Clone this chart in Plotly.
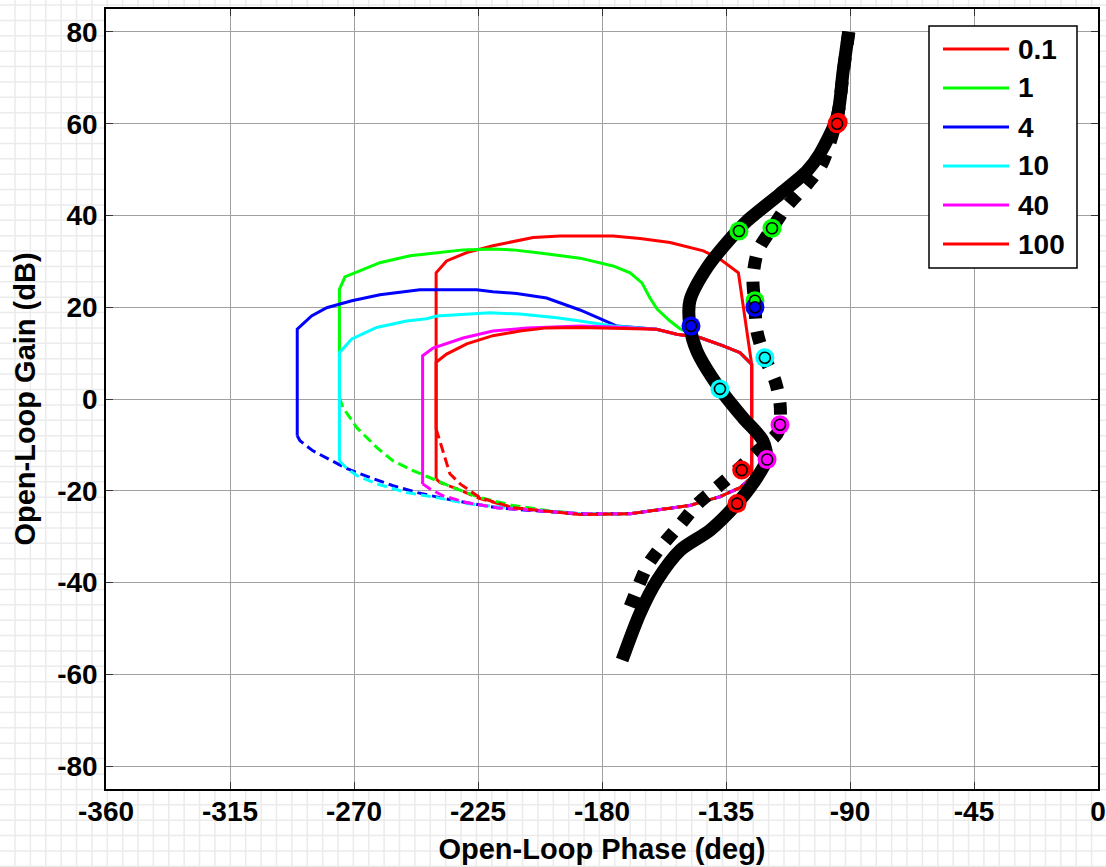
import plotly.graph_objects as go

# ---------------- data (phase in deg, gain in dB) ----------------
legend_labels = ["0.1", "1", "4", "10", "40", "100"]
series_colors = ["#ff0000", "#00ff00", "#0000ff", "#00ffff", "#ff00ff", "#ff0000"]

x_ticks = [-360, -315, -270, -225, -180, -135, -90, -45, 0]
y_ticks = [-80, -60, -40, -20, 0, 20, 40, 60, 80]

# thick black solid curve
solid_phase = [-90.5, -92.5, -94.7, -101.0, -105.6, -115.4, -127.4, -131.0, -141.9,
               -148.1, -148.1, -145.6, -137.2, -128.8, -121.6, -120.3, -125.2, -131.0, -140.8,
               -151.7, -160.0, -166.2, -172.7]
solid_gain = [80.0, 71.4, 61.4, 53.4, 49.7, 44.7, 38.8, 36.6, 28.6,
              21.4, 15.9, 10.5, 2.2, -4.1, -9.1, -13.2, -18.4, -22.8, -28.6,
              -33.0, -39.5, -46.7, -56.9]

# thick black dotted curve
dotted_phase = [-90.4, -92.5, -94.4, -100.2, -105.6, -112.9, -118.3, -123.4, -125.2, -124.5,
                -123.8, -120.9, -117.2, -115.4, -115.4, -116.5, -124.5, -130.7, -137.9, -145.2,
                -151.7, -157.9, -163.3, -167.3, -170.9]
dotted_gain = [80.0, 71.0, 62.1, 51.2, 46.8, 42.0, 37.2, 32.3, 26.4, 20.3,
               14.8, 9.0, 4.0, -1.0, -5.6, -7.6, -11.9, -15.4, -19.1, -22.8,
               -27.4, -31.7, -36.1, -41.5, -47.0]

# colored loops: solid part and dashed part
red01_solid_phase = [-240.2, -240.2, -236.4, -229.1, -219.6, -212.3, -205.0, -195.2, -176.0, -166.2,
                     -155.3, -143.2, -137.2, -130.5, -125.7, -125.7]
red01_solid_gain = [-17.4, 27.5, 30.1, 31.9, 33.4, 34.3, 35.2, 35.5, 35.5, 35.0,
                    34.1, 32.3, 30.5, 27.5, 7.6, -17.1]
red01_dash_phase = [-240.2, -238.8, -232.6, -224.3, -212.3, -188.0, -169.8, -148.1, -137.2, -129.9, -125.7]
red01_dash_gain = [-17.4, -18.2, -19.6, -21.7, -23.7, -25.2, -25.0, -23.2, -21.3, -19.3, -17.1]

green_solid_phase = [-275.3, -275.3, -273.3, -260.6, -249.7, -239.9, -230.4, -219.6, -212.3, -202.5,
                     -188.0, -176.0, -169.8, -165.5, -162.6, -160.0, -155.3, -151.7, -144.5, -136.0,
                     -129.9, -125.7, -125.7]
green_solid_gain = [0.3, 23.9, 26.6, 29.7, 31.2, 31.8, 32.5, 32.7, 32.5, 31.8,
                    30.7, 29.0, 27.5, 25.3, 22.0, 19.6, 17.0, 15.3, 13.4, 11.6,
                    10.1, 7.6, -17.1]
green_dash_phase = [-275.3, -274.0, -268.9, -261.7, -255.8, -248.6, -239.9, -234.1, -224.3, -212.3,
                    -200.0, -188.0, -169.8, -148.1, -137.2, -129.9, -125.7]
green_dash_gain = [0.3, -1.9, -6.3, -10.6, -13.5, -15.6, -17.8, -19.3, -21.5, -23.2,
                   -24.3, -25.0, -25.0, -23.2, -21.3, -19.3, -17.1]

blue_solid_phase = [-290.6, -290.6, -285.4, -279.9, -270.8, -260.6, -246.1, -225.5, -219.6, -211.0,
                    -200.1, -195.2, -188.0, -180.7, -174.6, -160.2, -152.9, -144.5, -136.0, -129.9,
                    -125.7, -125.7]
blue_solid_gain = [-8.0, 15.2, 18.1, 19.9, 21.4, 22.7, 23.8, 23.8, 23.4, 23.0,
                   22.0, 21.0, 19.4, 17.5, 15.9, 15.2, 14.1, 13.4, 11.6, 10.1,
                   7.6, -17.1]
blue_dash_phase = [-290.6, -289.6, -284.9, -277.6, -272.5, -264.2, -255.8, -247.1, -238.8, -229.0,
                   -218.1, -206.1, -188.0, -169.8, -148.1, -137.2, -129.9, -125.7]
blue_dash_gain = [-8.0, -9.1, -11.3, -13.5, -15.2, -17.1, -18.9, -20.4, -21.5, -22.6,
                  -23.7, -24.3, -25.0, -25.0, -23.2, -21.3, -19.3, -17.1]

cyan_solid_phase = [-275.3, -275.3, -270.8, -261.8, -250.9, -243.6, -239.9, -229.1, -220.6, -209.8,
                    -196.4, -188.0, -176.0, -160.2, -152.9, -144.5, -136.0, -129.9, -125.7, -125.7]
cyan_solid_gain = [-13.5, 10.1, 13.1, 15.6, 17.0, 17.5, 18.1, 18.5, 18.8, 18.5,
                   17.7, 17.0, 15.9, 15.2, 14.1, 13.4, 11.6, 10.1, 7.6, -17.1]
cyan_dash_phase = [-275.3, -272.5, -268.9, -261.7, -250.8, -239.9, -229.0, -214.5, -188.0, -169.8,
                   -148.1, -137.2, -129.9, -125.7]
cyan_dash_gain = [-13.5, -15.2, -16.7, -18.5, -20.4, -21.5, -22.8, -23.7, -25.0, -25.0,
                  -23.2, -21.3, -19.3, -17.1]

magenta_solid_phase = [-245.1, -245.1, -241.3, -230.4, -219.6, -207.2, -188.0, -176.0, -160.2, -152.9,
                       -144.5, -136.0, -129.9, -125.7, -125.7]
magenta_solid_gain = [-18.5, 9.4, 11.1, 13.3, 14.8, 15.5, 15.9, 15.7, 15.2, 14.1,
                      13.4, 11.6, 10.1, 7.6, -17.1]
magenta_dash_phase = [-245.1, -242.4, -237.7, -229.0, -218.1, -188.0, -169.8, -148.1, -137.2, -129.9, -125.7]
magenta_dash_gain = [-18.5, -19.6, -21.1, -22.6, -23.7, -25.0, -25.0, -23.2, -21.3, -19.3, -17.1]

red100_solid_phase = [-240.2, -240.2, -236.4, -229.1, -219.6, -209.8, -200.0, -188.0, -176.0, -160.2,
                      -152.9, -144.5, -136.0, -129.9, -125.7, -125.7]
red100_solid_gain = [-6.5, 8.0, 9.8, 12.0, 13.8, 14.8, 15.5, 15.6, 15.4, 15.2,
                     14.1, 13.4, 11.6, 10.1, 7.6, -17.1]
red100_dash_phase = [-240.2, -237.7, -235.2, -231.5, -224.3, -212.3, -188.0, -169.8, -148.1, -137.2,
                     -129.9, -125.7]
red100_dash_gain = [-6.5, -11.3, -16.3, -18.5, -21.5, -23.7, -25.2, -25.0, -23.2, -21.3,
                    -19.3, -17.1]

# circle markers on the black curves (one per series)
marker_solid_phase = [-94.7, -130.3, -147.7, -137.2, -120.1, -131.0]
marker_solid_gain = [60.0, 36.6, 15.9, 2.2, -13.2, -22.8]
marker_dotted_phase = [-94.3, -118.3, -124.5, -124.5, -120.9, -115.4, -129.3]
marker_dotted_gain = [60.3, 37.2, 21.4, 20.0, 9.0, -5.6, -15.5]
marker_dotted_colors = ["#ff0000", "#00ff00", "#00ff00", "#0000ff", "#00ffff", "#ff00ff", "#ff0000"]

loops = [
    (red01_solid_phase, red01_solid_gain, red01_dash_phase, red01_dash_gain),
    (green_solid_phase, green_solid_gain, green_dash_phase, green_dash_gain),
    (blue_solid_phase, blue_solid_gain, blue_dash_phase, blue_dash_gain),
    (cyan_solid_phase, cyan_solid_gain, cyan_dash_phase, cyan_dash_gain),
    (magenta_solid_phase, magenta_solid_gain, magenta_dash_phase, magenta_dash_gain),
    (red100_solid_phase, red100_solid_gain, red100_dash_phase, red100_dash_gain),
]

# ---------------- figure ----------------
W, H = 1106, 867
ML, MR, MT, MB = 106, 8, 9, 78
PW, PH = W - ML - MR, H - MT - MB
FONT = "Liberation Sans, Arial, Helvetica, sans-serif"

fig = go.Figure()

for (sp, sg, dp, dg), col, lab in zip(loops, series_colors, legend_labels):
    fig.add_trace(go.Scatter(x=dp, y=dg, mode="lines", name=lab + " (dashed)",
                             line=dict(color=col, width=3, dash="10px,5px"),
                             showlegend=False, hoverinfo="skip"))
    fig.add_trace(go.Scatter(x=sp, y=sg, mode="lines", name=lab,
                             line=dict(color=col, width=3),
                             showlegend=False, hoverinfo="skip"))

fig.add_trace(go.Scatter(x=dotted_phase, y=dotted_gain, mode="lines",
                         line=dict(color="black", width=13, dash="12px,13px",
                                   shape="spline", smoothing=0.8),
                         showlegend=False, hoverinfo="skip"))
fig.add_trace(go.Scatter(x=solid_phase, y=solid_gain, mode="lines",
                         line=dict(color="black", width=13, shape="spline", smoothing=0.8),
                         showlegend=False, hoverinfo="skip"))

for mp, mg, mc in [(marker_dotted_phase, marker_dotted_gain, marker_dotted_colors),
                   (marker_solid_phase, marker_solid_gain, series_colors)]:
    fig.add_trace(go.Scatter(x=mp, y=mg, mode="markers",
                             marker=dict(color=mc, size=19, line=dict(width=0)),
                             showlegend=False, hoverinfo="skip"))
    fig.add_trace(go.Scatter(x=mp, y=mg, mode="markers",
                             marker=dict(color=mc, size=11, line=dict(color="black", width=1.6)),
                             showlegend=False, hoverinfo="skip"))

# --------- background pattern outside the axes (light checker lines) ---------
def px2paper(px, py):
    return (px - ML) / PW, (H - MB - py) / PH

path = []
k = 0
while 15 + 15.38 * k < W:
    x = 15 + 15.38 * k
    a = px2paper(x, 0); b = px2paper(x, H)
    path.append(f"M{a[0]:.5f},{a[1]:.5f}L{b[0]:.5f},{b[1]:.5f}")
    k += 1
k = 0
while 5 + 15.38 * k < H:
    y = 5 + 15.38 * k
    a = px2paper(0, y); b = px2paper(W, y)
    path.append(f"M{a[0]:.5f},{a[1]:.5f}L{b[0]:.5f},{b[1]:.5f}")
    k += 1

shapes = [
    dict(type="path", xref="paper", yref="paper", path="".join(path),
         line=dict(color="#ebebeb", width=1.5), layer="below"),
    dict(type="rect", xref="paper", yref="paper", x0=0, x1=1, y0=0, y1=1,
         fillcolor="white", line=dict(width=0), layer="below"),
]

# --------- legend box (drawn manually to match line-sample length) ---------
lx0, ly0 = px2paper(929, 26)
lx1, ly1 = px2paper(1077, 268)
shapes.append(dict(type="rect", xref="paper", yref="paper", x0=lx0, x1=lx1, y0=ly1, y1=ly0,
                   fillcolor="white", line=dict(color="black", width=1.5), layer="above"))
annotations = []
for i, (lab, col) in enumerate(zip(legend_labels, series_colors)):
    yy = 49 + 39 * i
    a = px2paper(943, yy); b = px2paper(1009, yy); t = px2paper(1016, yy)
    shapes.append(dict(type="line", xref="paper", yref="paper", x0=a[0], x1=b[0], y0=a[1], y1=b[1],
                       line=dict(color=col, width=3), layer="above"))
    annotations.append(dict(xref="paper", yref="paper", x=t[0], y=t[1], text=lab,
                            showarrow=False, xanchor="left", yanchor="middle",
                            font=dict(family=FONT, size=28, color="black", weight="bold")))

axis_common = dict(showgrid=True, gridcolor="#a0a0a0", gridwidth=1, zeroline=False,
                   showline=True, linecolor="black", linewidth=1.5, mirror="ticks",
                   ticks="inside", ticklen=7, tickwidth=1, tickcolor="#333333",
                   automargin=False,
                   tickfont=dict(family=FONT, size=28, color="black", weight="bold"))

fig.update_layout(
    width=W, height=H,
    margin=dict(l=ML, r=MR, t=MT, b=MB),
    paper_bgcolor="white", plot_bgcolor="white",
    shapes=shapes, annotations=annotations, showlegend=False,
    xaxis=dict(range=[-360, 0], tickmode="array", tickvals=x_ticks,
               ticktext=[str(v) for v in x_ticks], ticklabelstandoff=-3,
               title=dict(text="Open-Loop Phase (deg)", standoff=12,
                          font=dict(family=FONT, size=29, color="black", weight="bold")),
               **axis_common),
    yaxis=dict(range=[-85, 85], tickmode="array", tickvals=y_ticks,
               ticktext=[str(v) for v in y_ticks], ticklabelstandoff=1,
               title=dict(text="Open-Loop Gain (dB)", standoff=13,
                          font=dict(family=FONT, size=29, color="black", weight="bold")),
               **axis_common),
)

fig.write_html("out.html")
